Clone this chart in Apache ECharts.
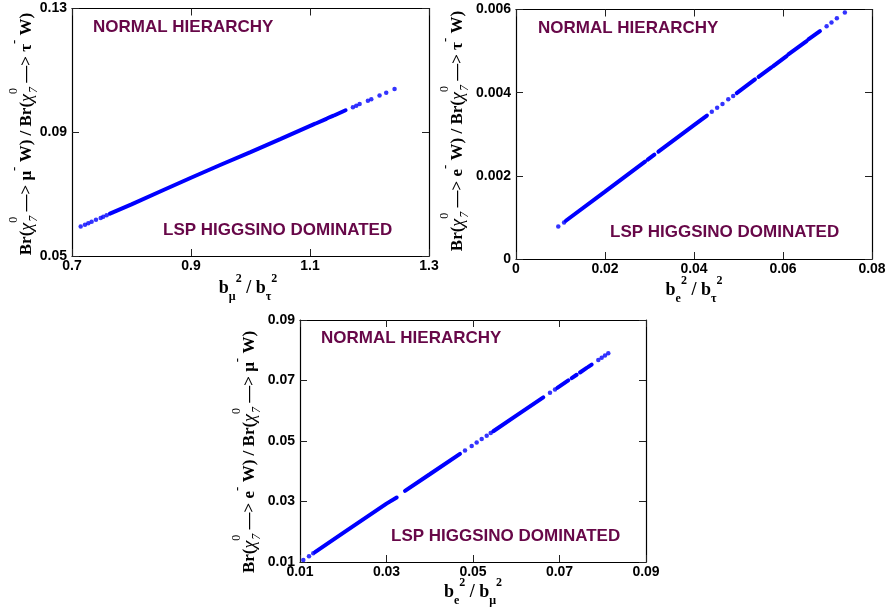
<!DOCTYPE html>
<html>
<head>
<meta charset="utf-8">
<title>Branching ratio correlations</title>
<script src="https://cdn.jsdelivr.net/npm/echarts@6/dist/echarts.min.js"></script>
<style>
  html, body { margin: 0; padding: 0; background: #ffffff; }
  #main { width: 889px; height: 613px; }
</style>
</head>
<body>
<div id="main"></div>
<script>
// ---------- Panel 1: Br(.. mu) / Br(.. tau) against b_mu^2 / b_tau^2 ----------
const muTauTicksX = [0.7, 0.9, 1.1, 1.3];
const muTauLabelsX = ['0.7', '0.9', '1.1', '1.3'];
const muTauTicksY = [0.05, 0.09, 0.13];
const muTauLabelsY = ['0.05', '0.09', '0.13'];
// densely populated stretches of the scan (continuous runs of points)
const muTauBand = [
  [[0.7638, 0.0637], [0.80, 0.0667], [0.85, 0.0710], [0.90, 0.0753], [0.95, 0.0795], [1.00, 0.0836], [1.05, 0.0878], [1.1078, 0.0927]],
  [[1.1107, 0.0929], [1.1275, 0.0943]],
  [[1.1300, 0.0946], [1.1386, 0.0953]],
  [[1.1414, 0.0955], [1.1598, 0.0971]]
];
// isolated scan points
const muTauDots = [
  [0.7146, 0.0595], [0.7218, 0.0601], [0.7274, 0.0606], [0.7330, 0.0611],
  [0.7403, 0.0617], [0.7482, 0.0623], [0.7525, 0.0627], [0.7582, 0.0632],
  [1.1721, 0.0981], [1.1778, 0.0986], [1.1834, 0.0991], [1.1973, 0.1002],
  [1.2030, 0.1007], [1.2169, 0.1019], [1.2281, 0.1028], [1.2421, 0.1040]
];

// ---------- Panel 2: e / tau against b_e^2 / b_tau^2 ----------
const eTauTicksX = [0, 0.02, 0.04, 0.06, 0.08];
const eTauLabelsX = ['0', '0.02', '0.04', '0.06', '0.08'];
const eTauTicksY = [0, 0.002, 0.004, 0.006];
const eTauLabelsY = ['0', '0.002', '0.004', '0.006'];
const eTauBand = [
  [[0.0112, 0.00092], [0.0200, 0.00162], [0.0290, 0.00234]],
  [[0.0296, 0.00239], [0.0311, 0.00251]],
  [[0.0320, 0.00258], [0.0400, 0.00322], [0.0429, 0.00345]],
  [[0.0496, 0.00399], [0.0537, 0.00432]],
  [[0.0545, 0.00438], [0.0574, 0.00461]],
  [[0.0578, 0.00464], [0.0608, 0.00488]],
  [[0.0612, 0.00492], [0.0653, 0.00524]],
  [[0.0657, 0.00528], [0.0683, 0.00548]]
];
const eTauDots = [
  [0.0095, 0.00078], [0.0108, 0.00088],
  [0.0440, 0.00354], [0.0452, 0.00364], [0.0464, 0.00373], [0.0477, 0.00384], [0.0488, 0.00392],
  [0.0698, 0.00560], [0.0709, 0.00569], [0.0721, 0.00579], [0.0739, 0.00593]
];

// ---------- Panel 3: e / mu against b_e^2 / b_mu^2 ----------
const eMuTicksX = [0.01, 0.03, 0.05, 0.07, 0.09];
const eMuLabelsX = ['0.01', '0.03', '0.05', '0.07', '0.09'];
const eMuTicksY = [0.01, 0.03, 0.05, 0.07, 0.09];
const eMuLabelsY = ['0.01', '0.03', '0.05', '0.07', '0.09'];
const eMuBand = [
  [[0.01347, 0.01328], [0.0200, 0.0196], [0.0300, 0.0293], [0.03236, 0.0313]],
  [[0.03428, 0.0335], [0.0400, 0.0390], [0.04699, 0.04576]],
  [[0.05469, 0.05322], [0.0600, 0.05836], [0.06625, 0.06442]],
  [[0.06949, 0.06756], [0.07203, 0.07002]],
  [[0.07282, 0.07079], [0.07397, 0.07190]],
  [[0.07474, 0.07265], [0.07629, 0.07415]],
  [[0.07665, 0.07450], [0.07744, 0.07526]]
];
const eMuDots = [
  [0.01077, 0.01066], [0.01208, 0.01193], [0.01307, 0.01289],
  [0.04815, 0.04688], [0.04970, 0.04838], [0.05085, 0.04950], [0.05201, 0.05062],
  [0.05317, 0.05175], [0.05409, 0.05264],
  [0.06780, 0.06592], [0.06896, 0.06705],
  [0.07897, 0.07675], [0.07975, 0.07750], [0.08052, 0.07825], [0.08128, 0.07899]
];

const SANS = '"Liberation Sans", Arial, Helvetica, sans-serif';
const SERIF = '"Liberation Serif", "Times New Roman", serif';
const BLUE = '#0000ff';
const MAROON = '#670748';

function labelFor(ticks, labels) {
  return function (v) {
    for (let i = 0; i < ticks.length; i++) {
      if (Math.abs(ticks[i] - v) < 1e-9) return labels[i];
    }
    return '';
  };
}

// one labelled axis plus a mirrored, unlabelled one on the opposite side
function axisPair(gridIndex, ticks, labels, isX) {
  const min = ticks[0], max = ticks[ticks.length - 1];
  const common = {
    type: 'value', gridIndex: gridIndex, min: min, max: max,
    splitLine: { show: false },
    axisLine: { show: true, onZero: false, lineStyle: { color: '#000', width: 1.2 } },
    axisTick: { show: true, inside: true, length: 7, customValues: ticks, lineStyle: { color: '#222', width: 1 } }
  };
  const main = Object.assign({}, common, {
    position: isX ? 'bottom' : 'left',
    axisLabel: {
      show: true, customValues: ticks, formatter: labelFor(ticks, labels),
      fontFamily: SANS, fontWeight: 'bold', fontSize: 14, color: '#000',
      margin: isX ? 3 : 5
    }
  });
  const mirror = Object.assign({}, common, {
    position: isX ? 'top' : 'right',
    axisLabel: { show: false }
  });
  return [main, mirror];
}

function bandSeries(segments, axisIndex) {
  return segments.map(function (seg) {
    return {
      type: 'line', xAxisIndex: axisIndex, yAxisIndex: axisIndex,
      data: seg, symbol: 'none', silent: true,
      lineStyle: { color: BLUE, width: 4, cap: 'round' }
    };
  });
}

function dotSeries(points, axisIndex) {
  return {
    type: 'scatter', xAxisIndex: axisIndex, yAxisIndex: axisIndex,
    data: points, symbol: 'circle', symbolSize: 4.5, silent: true,
    itemStyle: { color: BLUE }
  };
}

// rich-text styles for the axis titles (sub/superscripts via padding offsets)
const yRich = {
  b:  { fontFamily: SERIF, fontWeight: 'bold', fontSize: 17, fill: '#000', align: 'left', verticalAlign: 'middle' },
  g:  { fontFamily: SERIF, fontStyle: 'italic', fontSize: 18, fill: '#000', align: 'left', verticalAlign: 'middle' },
  gu: { fontFamily: SERIF, fontWeight: 'bold', fontSize: 17, fill: '#000', align: 'left', verticalAlign: 'middle' },
  zs: { fontFamily: SERIF, fontSize: 12, fill: '#000', width: 1, padding: [0, 0, 27, 0], align: 'left', verticalAlign: 'middle' },
  ns: { fontFamily: SERIF, fontStyle: 'italic', fontSize: 12, fill: '#000', padding: [14, 0, 0, 0], align: 'left', verticalAlign: 'middle' },
  ms: { fontFamily: SERIF, fontWeight: 'bold', fontSize: 13, fill: '#000', padding: [0, 0, 25, 0], align: 'left', verticalAlign: 'middle' }
};
const xRich = {
  b:  { fontFamily: SERIF, fontWeight: 'bold', fontSize: 18, fill: '#000', align: 'left', verticalAlign: 'middle' },
  sb: { fontFamily: SERIF, fontWeight: 'bold', fontSize: 12, fill: '#000', padding: [18, 0, 0, 0], align: 'left', verticalAlign: 'middle' },
  sp: { fontFamily: SERIF, fontWeight: 'bold', fontSize: 12, fill: '#000', padding: [0, 0, 18, 0], align: 'left', verticalAlign: 'middle' }
};

function yTitle(a, b) {
  return '{b|Br(}{g|χ}{zs|0}{ns|7}{b| —> }{gu|' + a + '}{ms|-}{b| W) / Br(}{g|χ}{zs|0}{ns|7}{b| —> }{gu|' + b + '}{ms|-}{b| W)}';
}
function xTitle(a, b) {
  return '{b|b}{sb|' + a + '}{sp|2}{b| / b}{sb|' + b + '}{sp|2}';
}

function yName(x, y, text) {
  return {
    type: 'text', x: x, y: y, rotation: Math.PI / 2, silent: true,
    style: { text: text, rich: yRich, align: 'center', verticalAlign: 'middle' }
  };
}
function xName(x, y, text) {
  return {
    type: 'text', x: x, y: y, silent: true,
    style: { text: text, rich: xRich, align: 'center', verticalAlign: 'middle' }
  };
}
function note(x, y, text) {
  return {
    type: 'text', x: x, y: y, silent: true,
    style: { text: text, font: 'bold 17px ' + SANS, fill: MAROON, align: 'left', verticalAlign: 'middle' }
  };
}

const x1 = axisPair(0, muTauTicksX, muTauLabelsX, true);
const y1 = axisPair(0, muTauTicksY, muTauLabelsY, false);
const x2 = axisPair(1, eTauTicksX, eTauLabelsX, true);
const y2 = axisPair(1, eTauTicksY, eTauLabelsY, false);
const x3 = axisPair(2, eMuTicksX, eMuLabelsX, true);
const y3 = axisPair(2, eMuTicksY, eMuLabelsY, false);

const chart = echarts.init(document.getElementById('main'), null, { renderer: 'canvas' });
chart.setOption({
  animation: false,
  backgroundColor: '#ffffff',
  grid: [
    { left: 72, top: 8.5, width: 357, height: 247.5 },
    { left: 516, top: 9.5, width: 356, height: 249.5 },
    { left: 300, top: 320, width: 346, height: 242 }
  ],
  xAxis: [x1[0], x1[1], x2[0], x2[1], x3[0], x3[1]],
  yAxis: [y1[0], y1[1], y2[0], y2[1], y3[0], y3[1]],
  series: [].concat(
    bandSeries(muTauBand, 0), [dotSeries(muTauDots, 0)],
    bandSeries(eTauBand, 2), [dotSeries(eTauDots, 2)],
    bandSeries(eMuBand, 4), [dotSeries(eMuDots, 4)]
  ),
  graphic: [
    note(93, 27, 'NORMAL HIERARCHY'),
    note(163, 230, 'LSP HIGGSINO DOMINATED'),
    note(538, 28, 'NORMAL HIERARCHY'),
    note(610, 232, 'LSP HIGGSINO DOMINATED'),
    note(321, 338, 'NORMAL HIERARCHY'),
    note(391, 536, 'LSP HIGGSINO DOMINATED'),
    yName(27, 134, yTitle('μ', 'τ')),
    yName(458, 131, yTitle('e', 'τ')),
    yName(250, 452, yTitle('e', 'μ')),
    xName(248, 288, xTitle('μ', 'τ')),
    xName(694, 290, xTitle('e', 'τ')),
    xName(473, 592, xTitle('e', 'μ'))
  ]
});
</script>
</body>
</html>
